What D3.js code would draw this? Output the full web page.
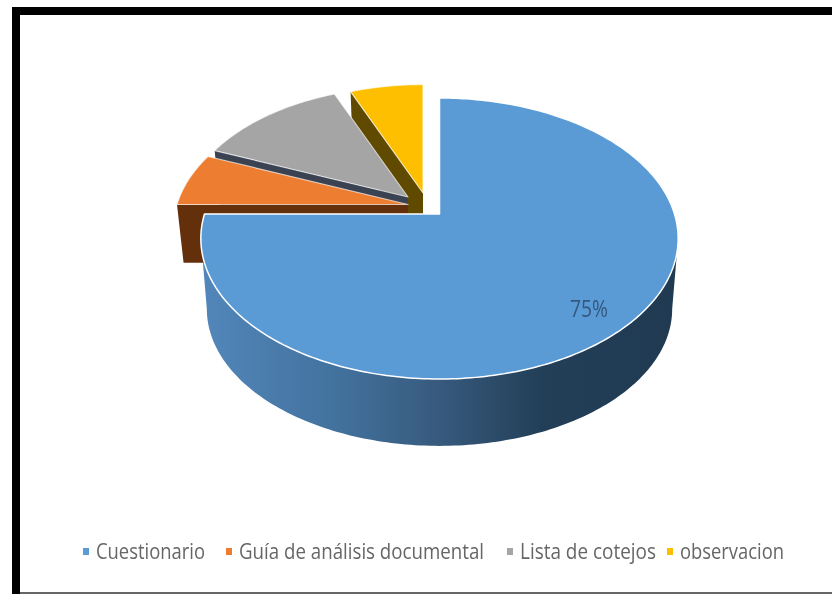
<!DOCTYPE html>
<html>
<head>
<meta charset="utf-8">
<script src="https://cdn.jsdelivr.net/npm/d3@7"></script>
<style>
    html, body {margin: 0; padding: 0; background: #fff;}
    svg {display: block; filter: blur(0.45px);}
    text {font-family: "Open Sans", sans-serif;}
</style>
</head>
<body>
<div id="chart"></div>
<script>
const categories = ["Cuestionario", "Guía de análisis documental", "Lista de cotejos", "observacion"];
const values = [75, 6.25, 12.5, 6.25];
const dataLabels = ["75%", "", "", ""];

const topColors = ["#5b9bd5", "#ed7d31", "#a5a5a5", "#fdbf00"];
const wallColors = ["#2f5377", "#64300c", "#3b4252", "#5f4a00"];

const width = 832;
const height = 594;

// apex of the big slice, the picture is in perspective so it is not the ellipse centre
const apex = {x: 439.5, y: 214};
const radius = {x: 235, up: 116, down: 165};
const tilt = (radius.up - radius.down) / (radius.up + radius.down);
const radiusY = radius.down * (1 + tilt);

// apex and size of each pulled out slice, blue one stays in place
const sliceLayout = [
    {x: 439.5, y: 214, scale: 1},
    {x: 408, y: 204.5, scale: 0.983},
    {x: 408, y: 197, scale: 0.95},
    {x: 423, y: 193, scale: 0.935}
];
const wallDepth = 58;
const baseDepth = 71;
const baseScale = 0.975;

const svg = d3.select("#chart").append("svg")
    .attr("width", width)
    .attr("height", height);

const pie = d3.pie().sort(null)(values);
const line = d3.line().x(d => d[0]).y(d => d[1]);

// pie angle -> point of the tilted disc, relative to the apex
function project(angle) {
    const u = Math.sin(angle);
    const v = -Math.cos(angle);
    const w = 1 + tilt * v;
    return [radius.x * u / w, radiusY * v / w];
}

function slicePoint(i, angle) {
    const p = project(angle);
    const s = sliceLayout[i];
    return [s.x + p[0] * s.scale, s.y + p[1] * s.scale];
}

function lower(p, depth) {
    return [apex.x + (p[0] - apex.x) * baseScale, apex.y + (p[1] - apex.y) * baseScale + depth];
}

function slicePath(i) {
    const d = pie[i];
    const n = Math.ceil((d.endAngle - d.startAngle) * 60);
    const pts = d3.range(n + 1).map(k =>
        slicePoint(i, d.startAngle + (d.endAngle - d.startAngle) * k / n));
    pts.unshift([sliceLayout[i].x, sliceLayout[i].y]);
    return line(pts) + "Z";
}

// frame
svg.append("rect").attr("width", width).attr("height", height).attr("fill", "#fff");
svg.append("path")
    .attr("d", "M16,600V11H840")
    .attr("fill", "none")
    .attr("stroke", "#000")
    .attr("stroke-width", 8);
svg.append("line")
    .attr("x1", 20).attr("x2", 840).attr("y1", 593).attr("y2", 593)
    .attr("stroke", "#666")
    .attr("stroke-width", 2);

// side of the big slice
const gradient = svg.append("defs").append("linearGradient")
    .attr("id", "wallGradient")
    .attr("gradientUnits", "userSpaceOnUse")
    .attr("x1", 205).attr("x2", 672).attr("y1", 0).attr("y2", 0);
[[0, "#5286ba"], [0.3, "#41709b"], [0.5, "#375a7d"], [0.72, "#233f58"], [1, "#1f3a51"]]
    .forEach(s => gradient.append("stop").attr("offset", s[0]).attr("stop-color", s[1]));

// widest points of the rim: left and right of the disc, found on the sampled outline
const rim = d3.range(0, 361).map(a => {
    const p = project(a * Math.PI / 180);
    return [apex.x + p[0], apex.y + p[1]];
});
const rightIdx = d3.greatestIndex(rim, d => d[0]);
const leftIdx = d3.leastIndex(rim, d => d[0]);
const frontRim = rim.slice(rightIdx, leftIdx + 1);
const sidePts = frontRim.concat(frontRim.slice().reverse().map(p => lower(p, baseDepth)));
svg.append("path")
    .attr("d", line(sidePts) + "Z")
    .attr("fill", "url(#wallGradient)");

// pulled out slices, far one first so the nearer ones cover its wall
[3, 2, 1].forEach(i => {
    const a = [sliceLayout[i].x, sliceLayout[i].y];
    const b = slicePoint(i, pie[i].startAngle);
    svg.append("path")
        .attr("d", line([a, b, lower(b, wallDepth), [a[0], a[1] + wallDepth]]) + "Z")
        .attr("fill", wallColors[i]);
    svg.append("path")
        .attr("d", slicePath(i))
        .attr("fill", topColors[i])
        .attr("stroke", "#fff")
        .attr("stroke-opacity", 0.65)
        .attr("stroke-width", 1.2)
        .attr("stroke-linejoin", "round");
});

// big slice on top
svg.append("path")
    .attr("d", slicePath(0))
    .attr("fill", topColors[0])
    .attr("stroke", "#fff")
    .attr("stroke-width", 1.5)
    .attr("stroke-linejoin", "round");

svg.append("text")
    .attr("x", 589)
    .attr("y", 317)
    .attr("text-anchor", "middle")
    .attr("font-size", 23)
    .attr("fill", "#34587f")
    .attr("textLength", 38)
    .attr("lengthAdjust", "spacingAndGlyphs")
    .text(dataLabels[0]);

// legend
const legendX = d3.scaleOrdinal().domain(categories).range([96, 239, 520, 680]);
const legendWidth = d3.scaleOrdinal().domain(categories).range([109, 245, 136, 104]);

const legend = svg.append("g").selectAll("g")
    .data(categories)
    .join("g")
    .attr("transform", d => "translate(" + legendX(d) + ",0)");

legend.append("rect")
    .attr("x", -13)
    .attr("y", 548)
    .attr("width", 6)
    .attr("height", 7)
    .attr("fill", (d, i) => topColors[i]);

legend.append("text")
    .attr("y", 559)
    .attr("font-size", 22)
    .attr("fill", "#666")
    .attr("textLength", d => legendWidth(d))
    .attr("lengthAdjust", "spacingAndGlyphs")
    .text(d => d);
</script>
</body>
</html>
